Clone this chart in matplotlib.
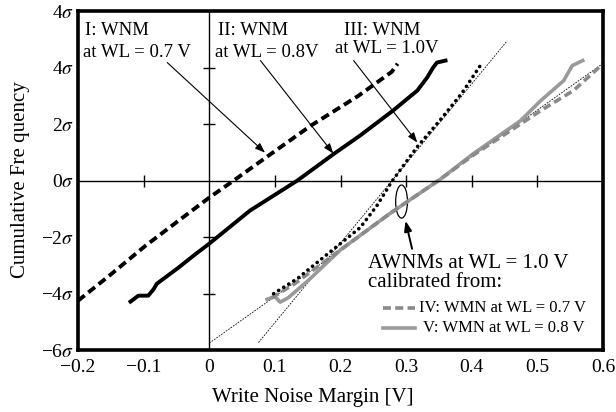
import numpy as np
import matplotlib
matplotlib.use("Agg")
import matplotlib.pyplot as plt
from matplotlib.patches import Ellipse

plt.rcParams["font.family"] = "Liberation Serif"
plt.rcParams["mathtext.fontset"] = "stix"

# data (x in V, y in sigma)
wnm07_x = [-0.2, -0.149, -0.097, -0.047, 0.0, 0.037, 0.09, 0.155, 0.227, 0.26, 0.278, 0.287]
wnm07_y = [-4.25, -3.3, -2.3, -1.42, -0.6, 0.0, 0.88, 1.95, 3.0, 3.55, 3.85, 4.14]

wnm08_x = [-0.12, -0.108, -0.093, -0.085, -0.08, -0.047, -0.021, 0.0, 0.062, 0.134, 0.19, 0.23,
           0.28, 0.317, 0.332, 0.341, 0.347, 0.36]
wnm08_y = [-4.28, -4.07, -4.07, -3.85, -3.65, -3.08, -2.6, -2.23, -1.06, 0.0, 0.95, 1.6,
           2.48, 3.19, 3.65, 4.0, 4.18, 4.25]

wnm10_x = [0.098, 0.134, 0.18, 0.23, 0.255, 0.279, 0.317, 0.352, 0.385, 0.416]
wnm10_y = [-4.0, -3.47, -2.6, -1.66, -0.9, 0.0, 1.2, 2.15, 3.1, 4.18]

awnm07_x = [0.095, 0.13, 0.165, 0.2, 0.276, 0.352, 0.402, 0.474, 0.505, 0.555, 0.6]
awnm07_y = [-4.15, -3.65, -3.05, -2.45, -1.15, 0.05, 0.9, 2.0, 2.48, 3.19, 4.14]

awnm08_x = [0.088, 0.1, 0.108, 0.12, 0.13, 0.15, 0.2, 0.276, 0.352, 0.402, 0.474, 0.505,
            0.54, 0.553, 0.569]
awnm08_y = [-4.2, -4.1, -4.3, -4.15, -3.95, -3.55, -2.45, -1.15, 0.05, 0.95, 2.12, 2.83,
            3.54, 4.07, 4.25]

fit1_x = [0.0, 0.6]
fit1_y = [-5.75, 4.15]
fit2_x = [0.075, 0.454]
fit2_y = [-5.73, 4.95]

xticks = [-0.2, -0.1, 0, 0.1, 0.2, 0.3, 0.4, 0.5, 0.6]
xtick_labels = ["\u22120.2", "\u22120.1", "0", "0.1", "0.2", "0.3", "0.4", "0.5", "0.6"]
yticks = [-6, -4, -2, 0, 2, 4, 6]
ytick_labels = ["\u22126$\\sigma$", "\u22124$\\sigma$", "\u22122$\\sigma$", "0$\\sigma$",
                "2$\\sigma$", "4$\\sigma$", "4$\\sigma$"]

fig = plt.figure(figsize=(6.16, 4.12), dpi=100)
ax = fig.add_axes([0.1266, 0.150, 0.8524, 0.823])
ax.set_xlim(-0.2, 0.6)
ax.set_ylim(-6, 6)

gray = "#9a9a9a"
ax.plot(fit1_x, fit1_y, color="black", lw=0.6, dashes=(2, 1.5))
ax.plot(fit2_x, fit2_y, color="black", lw=0.6, dashes=(2, 1.5))
ax.plot(awnm08_x, awnm08_y, color=gray, lw=2.6)
ax.plot(awnm07_x, awnm07_y, color="#8a8a8a", lw=2.6, dashes=(2.2, 1.2))
ax.plot(wnm07_x, wnm07_y, color="black", lw=2.8, dashes=(2.2, 1.2))
ax.plot(wnm08_x, wnm08_y, color="black", lw=2.8)
ax.plot(wnm10_x, wnm10_y, color="black", lw=2.6, dashes=(0.05, 1.6),
        dash_capstyle="round")

# centre cross axes with their own ticks
ax.axhline(0, color="black", lw=1.0)
ax.axvline(0, color="black", lw=1.0)
ax.plot([-0.1, 0.1, 0.2, 0.3, 0.4, 0.5], [0] * 6, ls="none", marker="|",
        ms=9, mew=1.0, color="black")
ax.plot([0] * 4, [-4, -2, 2, 4], ls="none", marker="_", ms=9, mew=1.0, color="black")

ax.set_xticks(xticks)
ax.set_xticklabels(xtick_labels, fontsize=14)
ax.set_yticks(yticks)
ax.set_yticklabels(ytick_labels, fontsize=14)
ax.tick_params(axis="x", length=0, pad=6)
ax.tick_params(axis="y", length=0, pad=3)
for axis in ["top", "bottom", "left", "right"]:
    ax.spines[axis].set_linewidth(2.6)

fig.text(0.507, 0.034, "Write Noise Margin [V]", fontsize=15, ha="center", va="center")
fig.text(0.034, 0.565, "Cumulative Fre quency", fontsize=15, ha="center", va="center",
         rotation=90)

# labels with arrows
ax.text(-0.189, 5.31, "I: WNM", fontsize=13.5, ha="left", va="center")
ax.text(-0.192, 4.55, "at WL = 0.7 V", fontsize=13.5, ha="left", va="center")
ax.text(0.014, 5.31, "II: WNM", fontsize=13.5, ha="left", va="center")
ax.text(0.008, 4.55, "at WL = 0.8V", fontsize=13.5, ha="left", va="center")
ax.text(0.264, 5.33, "III: WNM", fontsize=13.5, ha="center", va="center")
ax.text(0.27, 4.67, "at WL = 1.0V", fontsize=13.5, ha="center", va="center")

arrow = dict(arrowstyle="-|>,head_length=0.6,head_width=0.22", color="black", lw=0.8,
             shrinkA=0, shrinkB=0)
ax.annotate("", xy=(0.085, 0.99), xytext=(-0.064, 4.18), arrowprops=arrow)
ax.annotate("", xy=(0.189, 0.96), xytext=(0.078, 4.25), arrowprops=arrow)
ax.annotate("", xy=(0.317, 1.35), xytext=(0.22, 4.25), arrowprops=arrow)

ax.add_patch(Ellipse((0.293, -0.74), 0.018, 1.17, fill=False, ec="black", lw=0.9))
ax.annotate("", xy=(0.299, -1.42), xytext=(0.309, -2.41),
            arrowprops=dict(arrowstyle="-|>,head_length=0.6,head_width=0.22",
                            color="black", lw=1.4, shrinkA=0, shrinkB=0))

ax.text(0.242, -2.94, "AWNMs at WL = 1.0 V", fontsize=15, ha="left", va="center")
ax.text(0.242, -3.62, "calibrated from:", fontsize=15, ha="left", va="center")
ax.plot([0.264, 0.314], [-4.5, -4.5], color="#8a8a8a", lw=2.6, dashes=(2.2, 1.2))
ax.plot([0.264, 0.314], [-5.2, -5.2], color=gray, lw=2.6)
ax.text(0.319, -4.5, "IV: WMN at WL = 0.7 V", fontsize=12, ha="left", va="center")
ax.text(0.325, -5.2, "V: WMN at WL = 0.8 V", fontsize=12, ha="left", va="center")

fig.savefig("out.png", dpi=100)
